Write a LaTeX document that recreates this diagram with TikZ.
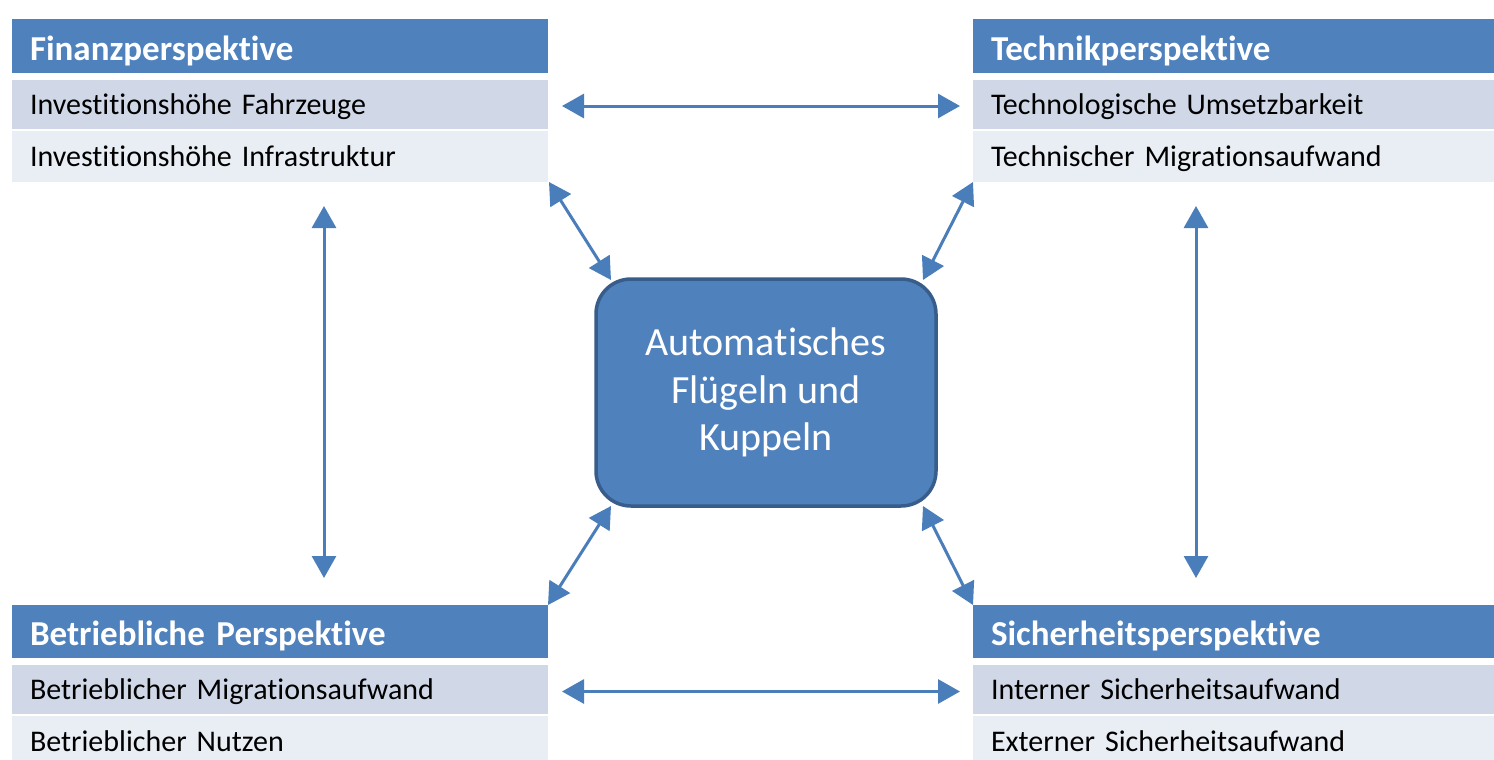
\documentclass[tikz,border=0pt]{standalone}
\usepackage{fontspec}
\setmainfont{Carlito}[Ligatures=NoCommon]
\newfontfamily\rowfamily{Carlito}[WordSpace=1.7,Ligatures=NoCommon]
\usetikzlibrary{arrows.meta}
\definecolor{hdrblue}{HTML}{4F81BD}
\definecolor{rowA}{HTML}{D0D8E8}
\definecolor{rowB}{HTML}{E9EDF4}
\definecolor{arrblue}{HTML}{4A7EBB}
\definecolor{boxborder}{HTML}{385D8A}
\begin{document}
\begin{tikzpicture}[x=1pt,y=-1pt,
  cell/.style={anchor=north west, inner xsep=18pt, inner ysep=0pt, outer sep=0pt, align=left},
  lcell/.style={cell, minimum width=536pt, text width=500pt},
  rcell/.style={cell, minimum width=527pt, text width=491pt},
  hdr/.style={fill=hdrblue, text=white, font=\bfseries\fontsize{35}{42}\selectfont, text height=28pt, text depth=0pt},
  rowa/.style={fill=rowA, text=black, font=\rowfamily\fontsize{30}{35}\selectfont, text height=19pt, text depth=0pt},
  rowb/.style={fill=rowB, text=black, font=\rowfamily\fontsize{30}{35}\selectfont, text height=19pt, text depth=0pt},
  centerbox/.style={draw=boxborder, line width=3.5pt, fill=hdrblue, rounded corners=35pt, minimum width=340pt, minimum height=227pt, outer sep=0pt, text=white, align=center, font=\fontsize{40}{47.5}\selectfont},
  arr/.style={draw=arrblue, line width=3pt, {Triangle[length=22pt,width=24pt]}-{Triangle[length=22pt,width=24pt]}}
]
\useasboundingbox (0,0) rectangle (1494,760);
\fill[white] (0,0) rectangle (1494,760);

% Finanzperspektive
\node[lcell,hdr,minimum height=54pt] (fin) at (12,19) {Finanzperspektive};
\node[lcell,rowa,minimum height=49pt] (fin1) at (12,80) {Investitionshöhe Fahrzeuge};
\node[lcell,rowb,minimum height=51pt] (fin2) at (12,131) {Investitionshöhe Infrastruktur};

% Technikperspektive
\node[rcell,hdr,minimum height=54pt] (tec) at (973,19) {Technikperspektive};
\node[rcell,rowa,minimum height=49pt] (tec1) at (973,80) {Technologische Umsetzbarkeit};
\node[rcell,rowb,minimum height=51pt] (tec2) at (973,131) {Technischer Migrationsaufwand};

% Betriebliche Perspektive
\node[lcell,hdr,minimum height=53pt] (bet) at (12,605) {Betriebliche Perspektive};
\node[lcell,rowa,minimum height=49pt] (bet1) at (12,665) {Betrieblicher Migrationsaufwand};
\node[lcell,rowb,minimum height=51pt] (bet2) at (12,716) {Betrieblicher Nutzen};

% Sicherheitsperspektive
\node[rcell,hdr,minimum height=53pt] (sic) at (973,605) {Sicherheitsperspektive};
\node[rcell,rowa,minimum height=49pt] (sic1) at (973,665) {Interner Sicherheitsaufwand};
\node[rcell,rowb,minimum height=51pt] (sic2) at (973,716) {Externer Sicherheitsaufwand};

% Center
\node[centerbox] (core) at (766,392.5) {Automatisches\\Flügeln und\\Kuppeln};

% Arrows
\draw[arr, shorten <=14pt, shorten >=13pt] ([yshift=-1.5pt]fin1.east) -- ([yshift=-1.5pt]tec1.west);
\draw[arr, shorten <=14pt, shorten >=13pt] ([yshift=-2pt]bet1.east) -- ([yshift=-2pt]sic1.west);
\draw[arr, shorten <=24pt, shorten >=27pt] ([xshift=312pt]fin2.south west) -- ([xshift=312pt]bet.north west);
\draw[arr, shorten <=24pt, shorten >=27pt] ([xshift=223pt]tec2.south west) -- ([xshift=223pt]sic.north west);
\draw[arr] ([xshift=1pt]fin2.south east) -- ([xshift=15pt,yshift=-1pt]core.north west);
\draw[arr] (tec2.south west) -- ([xshift=-13pt,yshift=-1pt]core.north east);
\draw[arr] (bet.north east) -- ([xshift=15pt]core.south west);
\draw[arr] (sic.north west) -- ([xshift=-13pt]core.south east);
\end{tikzpicture}
\end{document}
